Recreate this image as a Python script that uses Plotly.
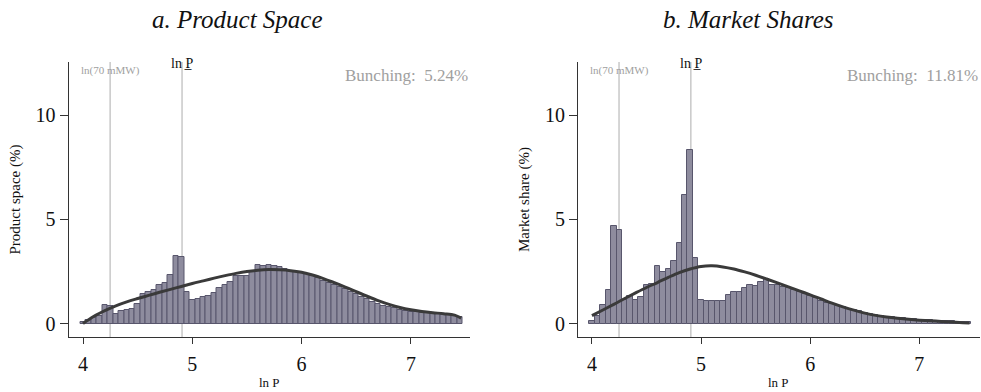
import plotly.graph_objects as go

# Histogram bins of ln P (width 0.05, first bin centred on 4.00)
bin_start = 4.0
bin_width = 0.05

# Panel a: share of products per bin (%)
product_space = [
    0.07, 0.15, 0.25, 0.35, 0.90, 0.85, 0.48, 0.58, 0.66, 0.70,
    0.92, 1.40, 1.52, 1.62, 1.85, 1.93, 2.35, 3.26, 3.22, 1.52,
    1.12, 1.18, 1.25, 1.30, 1.48, 1.72, 1.86, 2.00, 2.30, 2.30,
    2.30, 2.52, 2.82, 2.77, 2.79, 2.77, 2.71, 2.61, 2.53, 2.47,
    2.42, 2.37, 2.27, 2.17, 2.03, 1.93, 1.84, 1.76, 1.66, 1.53,
    1.40, 1.29, 1.16, 1.05, 0.95, 0.86, 0.79, 0.73, 0.65, 0.60,
    0.57, 0.54, 0.50, 0.49, 0.47, 0.46, 0.42, 0.39, 0.34, 0.31,
]

# Panel b: market share per bin (%)
market_share = [
    0.10, 0.35, 0.90, 1.60, 4.70, 4.48, 1.14, 1.32, 1.12, 1.28,
    1.86, 1.92, 2.77, 2.47, 2.64, 3.00, 3.89, 6.19, 8.34, 3.15,
    1.15, 1.08, 1.07, 1.07, 1.07, 1.37, 1.53, 1.53, 1.69, 1.85,
    1.82, 2.01, 2.12, 1.87, 1.86, 1.77, 1.69, 1.61, 1.53, 1.42,
    1.30, 1.24, 1.07, 0.98, 0.92, 0.85, 0.78, 0.70, 0.64, 0.58,
    0.52, 0.46, 0.41, 0.36, 0.33, 0.30, 0.28, 0.25, 0.23, 0.21,
    0.19, 0.17, 0.16, 0.14, 0.13, 0.12, 0.10, 0.09, 0.07, 0.06,
]

# Smooth counterfactual fits
fit_x = [4.00, 4.10, 4.20, 4.30, 4.40, 4.50, 4.60, 4.70, 4.80, 4.90,
         5.00, 5.10, 5.20, 5.30, 5.40, 5.50, 5.60, 5.70, 5.80, 5.90,
         6.00, 6.10, 6.20, 6.30, 6.40, 6.50, 6.60, 6.70, 6.80, 6.90,
         7.00, 7.10, 7.20, 7.30, 7.40, 7.46]
fit_product = [0.00, 0.35, 0.62, 0.85, 1.04, 1.20, 1.35, 1.50, 1.64, 1.78,
               1.92, 2.05, 2.18, 2.30, 2.41, 2.50, 2.56, 2.59, 2.58, 2.54,
               2.46, 2.33, 2.16, 1.96, 1.75, 1.53, 1.31, 1.10, 0.92, 0.77,
               0.66, 0.58, 0.52, 0.47, 0.40, 0.26]
fit_market = [0.38, 0.65, 0.92, 1.20, 1.47, 1.73, 1.97, 2.22, 2.45, 2.62,
              2.74, 2.77, 2.72, 2.62, 2.48, 2.32, 2.14, 1.95, 1.76, 1.57,
              1.38, 1.18, 0.98, 0.80, 0.64, 0.50, 0.39, 0.31, 0.25, 0.20,
              0.16, 0.13, 0.10, 0.07, 0.04, 0.02]

# Reference lines and labels
ln_min_wage = 4.248      # ln(70 mMW)
ln_p_bar = 4.906         # ln P
bunching = ["5.24%", "11.81%"]
panel_titles = ["a. Product Space", "b. Market Shares"]
y_titles = ["Product space (%)", "Market share (%)"]

bins = [round(bin_start + i * bin_width, 2) for i in range(len(product_space))]

FONT = "Liberation Serif, DejaVu Serif, serif"
BAR_FILL = "rgb(142,140,158)"
BAR_EDGE = "rgb(88,86,108)"
AXIS = "#333333"

fig = go.Figure()

panels = [
    (product_space, fit_product, "x", "y"),
    (market_share, fit_market, "x2", "y2"),
]
for vals, fit, xa, ya in panels:
    fig.add_trace(go.Bar(
        x=bins, y=vals, width=bin_width, xaxis=xa, yaxis=ya,
        marker=dict(color=BAR_FILL, line=dict(color=BAR_EDGE, width=1)),
        showlegend=False, hoverinfo="x+y",
    ))
    fig.add_trace(go.Scatter(
        x=fit_x, y=fit, xaxis=xa, yaxis=ya, mode="lines",
        line=dict(color="#3a3a3a", width=3, shape="spline", smoothing=1.0),
        showlegend=False,
    ))

y_dom = [1 - 337 / 392, 1 - 62 / 392]
x_doms = [[68.5 / 981, 470 / 981], [578 / 981, 980 / 981]]
x_ranges = [[3.867, 7.541], [3.872, 7.556]]
y_range = [-0.649, 12.57]

common_x = dict(
    showline=True, linecolor=AXIS, linewidth=1, mirror=False,
    ticks="outside", ticklen=6, tickcolor=AXIS, tickwidth=1,
    tickvals=[4, 5, 6, 7], showgrid=False, zeroline=False,
    ticklabelstandoff=3,
    tickfont=dict(family=FONT, size=20, color="#111111"),
)
common_y = dict(
    showline=True, linecolor=AXIS, linewidth=1, mirror=False,
    ticks="outside", ticklen=8, tickcolor=AXIS, tickwidth=1,
    tickvals=[0, 5, 10], showgrid=False, zeroline=False,
    tickfont=dict(family=FONT, size=20, color="#111111"),
    domain=y_dom, range=y_range,
)

fig.update_layout(
    width=981, height=392,
    margin=dict(l=0, r=0, t=0, b=0),
    paper_bgcolor="white", plot_bgcolor="white",
    bargap=0,
    xaxis=dict(common_x, domain=x_doms[0], range=x_ranges[0], anchor="y"),
    yaxis=dict(common_y, anchor="x"),
    xaxis2=dict(common_x, domain=x_doms[1], range=x_ranges[1], anchor="y2"),
    yaxis2=dict(common_y, anchor="x2"),
    font=dict(family=FONT),
)

shapes = []
annotations = []
for i, (xa, ya) in enumerate([("x", "y"), ("x2", "y2")]):
    for xv in (ln_min_wage, ln_p_bar):
        shapes.append(dict(
            type="line", xref=xa, yref=f"{ya} domain", x0=xv, x1=xv, y0=0, y1=1,
            line=dict(color="#c8c8c8", width=1.5), layer="below",
        ))
    annotations.append(dict(
        xref=xa, yref="paper", x=ln_min_wage, y=1 - 70 / 392,
        text="ln(70 mMW)", showarrow=False, xanchor="center", yanchor="middle",
        font=dict(family=FONT, size=11, color="#a0a0a0"),
    ))
    annotations.append(dict(
        xref=xa, yref="paper", x=ln_p_bar, y=1 - 64 / 392,
        text="ln P\u0332", showarrow=False, xanchor="center", yanchor="middle",
        font=dict(family=FONT, size=14, color="#111111"),
    ))
    annotations.append(dict(
        xref="paper", yref="paper", x=x_doms[i][1], y=1 - 75 / 392,
        text="Bunching:  " + bunching[i], showarrow=False,
        xanchor="right", yanchor="middle",
        font=dict(family=FONT, size=17, color="#a0a0a0"),
    ))
    # x-axis title
    annotations.append(dict(
        xref="paper", yref="paper", x=(x_doms[i][0] + x_doms[i][1]) / 2,
        y=1 - 382 / 392, text="ln P", showarrow=False,
        xanchor="center", yanchor="middle",
        font=dict(family=FONT, size=13, color="#111111"),
    ))
    # y-axis title
    annotations.append(dict(
        xref="paper", yref="paper", x=x_doms[i][0] - 53.5 / 981,
        y=(y_dom[0] + y_dom[1]) / 2, text=y_titles[i], showarrow=False,
        textangle=-90, xanchor="center", yanchor="middle",
        font=dict(family=FONT, size=15, color="#111111"),
    ))
    # panel title
    annotations.append(dict(
        xref="paper", yref="paper", x=[237 / 981, 748 / 981][i],
        y=1 - 20 / 392, text="<i>" + panel_titles[i] + "</i>", showarrow=False,
        xanchor="center", yanchor="middle",
        font=dict(family=FONT, size=25, color="#111111"),
    ))

fig.update_layout(shapes=shapes, annotations=annotations)

fig.write_html("out.html")
